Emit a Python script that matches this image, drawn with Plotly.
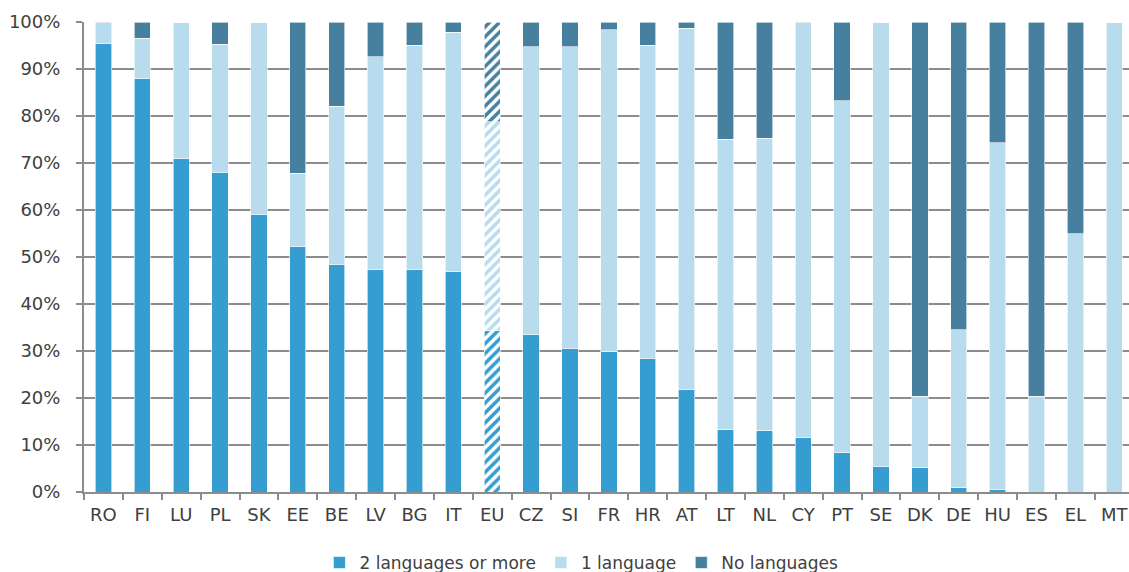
import plotly.graph_objects as go

countries = ["RO","FI","LU","PL","SK","EE","BE","LV","BG","IT","EU","CZ","SI","FR","HR","AT",
             "LT","NL","CY","PT","SE","DK","DE","HU","ES","EL","MT"]
two_plus = [95.5,88.0,71.0,68.0,59.1,52.3,48.5,47.4,47.4,47.0,34.3,33.6,30.6,29.8,28.5,21.9,
            13.2,13.0,11.7,8.3,5.5,5.3,0.9,0.6,0.0,0.0,0.0]
one_lang = [4.3,8.5,29.0,27.3,40.9,15.5,33.6,45.2,47.7,50.8,44.5,61.1,64.1,68.6,66.6,76.8,
            61.9,62.3,88.1,74.9,94.5,15.1,33.6,73.7,20.4,55.0,100.0]
no_lang = [0.2,3.5,0.0,4.7,0.0,32.2,17.9,7.4,4.9,2.2,21.2,5.3,5.3,1.6,4.9,1.3,
           24.9,24.7,0.2,16.8,0.0,79.6,65.5,25.7,79.6,45.0,0.0]
series_names = ["2 languages or more", "1 language", "No languages"]
colors = ["#359DCF", "#B8DCEE", "#46809E"]

fig = go.Figure()
for name, vals, col in zip(series_names, [two_plus, one_lang, no_lang], colors):
    shapes = ["/" if c == "EU" else "" for c in countries]
    bgs = ["#FFFFFF" if c == "EU" else col for c in countries]
    fig.add_trace(go.Bar(
        x=countries, y=vals, name=name,
        marker=dict(color=col, line=dict(color="#FFFFFF", width=0.6),
                    pattern=dict(shape=shapes, bgcolor=bgs, fgcolor=col, fgopacity=1,
                                 size=7, solidity=0.5)),
    ))

fig.update_layout(
    barmode="stack", bargap=0.58,
    width=1129, height=572,
    margin=dict(l=84, r=0, t=22, b=80, autoexpand=False),
    paper_bgcolor="white", plot_bgcolor="white",
    font=dict(family="DejaVu Sans, Verdana, sans-serif", size=17, color="#404040"),
    showlegend=True,
    legend=dict(orientation="h", x=0.515, xanchor="center", xref="container",
                y=9/572, yanchor="middle", yref="container",
                font=dict(size=17, color="#404040"), traceorder="normal",
                itemwidth=30),
)
fig.update_xaxes(range=[-0.5, 26.38], showline=True, linecolor="#8C8C8C", linewidth=2,
                 ticks="outside", tickson="boundaries", ticklen=6, tickcolor="#8C8C8C",
                 tickwidth=2, showgrid=False, tickfont=dict(size=18), ticklabelstandoff=5,
                 automargin=False)
fig.update_yaxes(range=[0, 100], dtick=10, ticksuffix="%", showline=True,
                 linecolor="#8C8C8C", linewidth=2, showgrid=True, gridcolor="#8C8C8C",
                 gridwidth=2, ticks="outside", ticklen=6, tickcolor="#8C8C8C", tickwidth=2,
                 zeroline=False, tickfont=dict(size=18), ticklabelstandoff=12,
                 automargin=False)

fig.write_html("out.html", config={"displayModeBar": False},
               post_script="document.body.style.margin='0';document.body.style.overflow='hidden';")
